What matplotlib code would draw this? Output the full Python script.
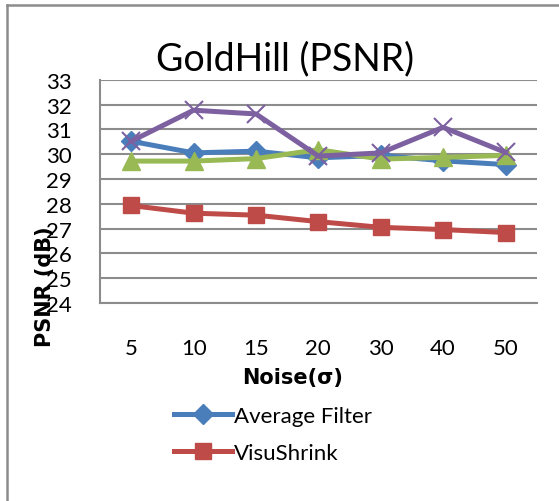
import numpy as np
import matplotlib
matplotlib.use("Agg")
import matplotlib.pyplot as plt
from matplotlib.lines import Line2D

noise = ["5", "10", "15", "20", "30", "40", "50"]
avg_filter = [30.52, 30.05, 30.12, 29.85, 29.95, 29.73, 29.58]
visushrink = [27.93, 27.62, 27.54, 27.28, 27.05, 26.96, 26.84]
green_series = [29.72, 29.72, 29.82, 30.18, 29.80, 29.87, 29.95]
purple_series = [30.52, 31.77, 31.62, 29.92, 30.05, 31.08, 30.07]

plt.rcParams['font.family'] = ['Lato', 'DejaVu Sans']

W, H = 559, 502
fig = plt.figure(figsize=(W / 100, H / 100), dpi=100)
ax = fig.add_axes([100 / W, (H - 304) / H, 436.7 / W, (304 - 80.7) / H])

x = np.arange(len(noise))
ax.plot(x, avg_filter, color="#4A7EBB", lw=3.6, marker="D", ms=10, label="Average Filter")
ax.plot(x, visushrink, color="#BE4B48", lw=3.6, marker="s", ms=12, label="VisuShrink")
ax.plot(x, green_series, color="#98B954", lw=3.6, marker="^", ms=13)
ax.plot(x, purple_series, color="#7D60A0", lw=3.6, marker="x", ms=13, mew=1.5)

ax.set_xlim(-0.5, 6.5)
ax.set_ylim(24, 33)
ax.set_yticks(range(24, 34))
ax.set_xticks(x)
ax.set_xticklabels(noise)
ax.tick_params(length=0, labelsize=16)
ax.tick_params(axis="y", pad=20)
ax.tick_params(axis="x", pad=25)
ax.grid(axis="y", color="#8c8c8c", lw=1.5)
ax.set_axisbelow(True)
for s in ["top", "right"]:
    ax.spines[s].set_visible(False)
for s in ["left", "bottom"]:
    ax.spines[s].set_color("#8c8c8c")
    ax.spines[s].set_linewidth(1.5)

fig.text(285 / W, (H - 70) / H, "GoldHill (PSNR)", ha="center", va="baseline", fontsize=27)
fig.text(293 / W, (H - 378) / H, "Noise(σ)", ha="center", va="center",
         fontsize=15, fontweight="bold", family="DejaVu Sans")
fig.text(45 / W, (H - 287) / H, "PSNR (dB)", ha="center", va="center", rotation=90,
         fontsize=15, fontweight="bold", family="DejaVu Sans")

fig.legend(handles=ax.get_lines()[:2], loc="upper left", bbox_to_anchor=(165 / W, (H - 398) / H),
           frameon=False, fontsize=16, handlelength=2.6, handletextpad=0.1, labelspacing=0.75,
           borderaxespad=0)

# outer chart border
fig.add_artist(Line2D([7 / W, 7 / W], [0, (H - 5.5) / H], color="#8c8c8c", lw=1.8))
fig.add_artist(Line2D([7 / W, 1], [(H - 5.5) / H, (H - 5.5) / H], color="#8c8c8c", lw=1.8))

fig.savefig("out.png", dpi=100)
